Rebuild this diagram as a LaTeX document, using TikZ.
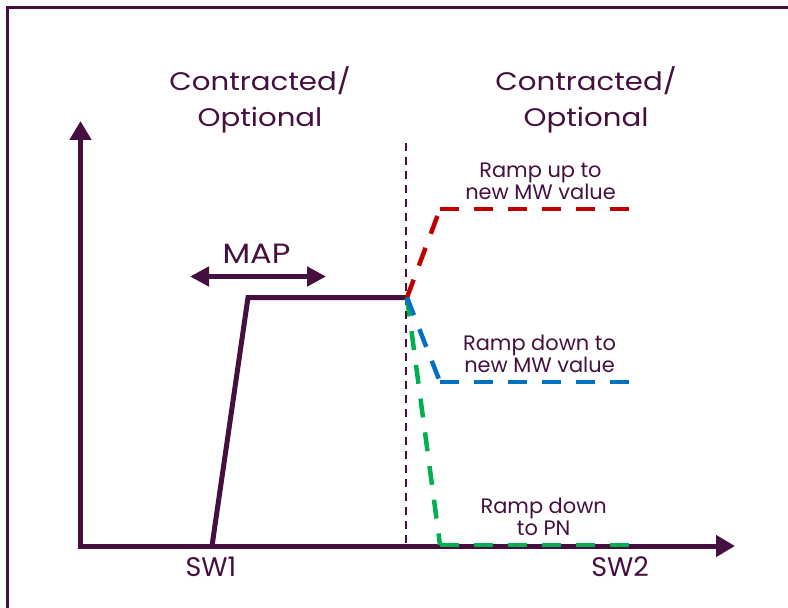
\documentclass[tikz,border=0pt]{standalone}
\usepackage{fontspec}
\setmainfont{Poppins}
\newfontfamily\widefont{Poppins}[FakeStretch=1.15]
\usetikzlibrary{arrows.meta}
\definecolor{plum}{HTML}{45103F}
\definecolor{upred}{HTML}{C00000}
\definecolor{downblue}{HTML}{0070C0}
\definecolor{pngreen}{HTML}{00B050}

\begin{document}
\begin{tikzpicture}[x=1bp, y=-1bp, text=plum,
    axis/.style={draw=plum, line width=5bp, -{Triangle[length=19bp,width=21bp]}},
    heading/.style={align=center, font=\widefont\fontsize{25.5}{36}\selectfont},
    ramptext/.style={align=center, font=\fontsize{21}{21.5}\selectfont},
    swlabel/.style={font=\fontsize{27}{30}\selectfont},
    ramp/.style={line width=4.5bp, dash pattern=on 19bp off 15bp}]
    \useasboundingbox (0,0) rectangle (788,608);
    % frame
    \draw[plum, line width=3bp] (7.5,608) -- (7.5,7.5) -- (788,7.5);
    % axes
    \coordinate (origin) at (80.5,546);
    \draw[axis] (origin) -- (80.5,121);
    \draw[axis] (78,546) -- (735,546);
    % titles
    \node[heading] (left title) at (260,100) {Contracted/\\Optional};
    \node[heading] (right title) at (586,100) {Contracted/\\Optional};
    % switch points
    \node[swlabel] (sw1) at (211,567) {SW1};
    \node[swlabel] (sw2) at (620,567) {SW2};
    % main profile
    \coordinate (start) at (212,546);
    \coordinate (top) at (248,297.5);
    \coordinate (split) at (407,297.5);
    \draw[plum, line width=5bp] (start) -- (top) -- (split);
    \draw[plum, line width=2bp, dash pattern=on 8bp off 6bp] (406,143) -- (406,546);
    % MAP
    \coordinate (map l) at (190,276.5);
    \coordinate (map r) at (326,276.5);
    \draw[plum, line width=5.5bp, {Triangle[length=19bp,width=19bp]}-{Triangle[length=19bp,width=19bp]}] (map l) -- (map r);
    \node[font=\widefont\fontsize{28}{30}\selectfont] (map) at (256.5,253.3) {MAP};
    % ramps
    \coordinate (up) at (440,209);
    \coordinate (down) at (440,382);
    \coordinate (pn) at (440,545);
    \draw[ramp, upred] (split) -- (up);
    \draw[ramp, upred] (up) -- (629,209);
    \draw[ramp, pngreen] (split) -- (pn);
    \draw[ramp, pngreen] (pn) -- (629,545);
    \draw[ramp, downblue] (split) -- (down);
    \draw[ramp, downblue] (down) -- (629,382);
    \node[ramptext] (up text) at (540.5,181.5) {Ramp up to\\new MW value};
    \node[ramptext] (down text) at (539.5,354) {Ramp down to\\new MW value};
    \node[ramptext] (pn text) at (543.7,517) {Ramp down\\to PN};
\end{tikzpicture}
\end{document}
